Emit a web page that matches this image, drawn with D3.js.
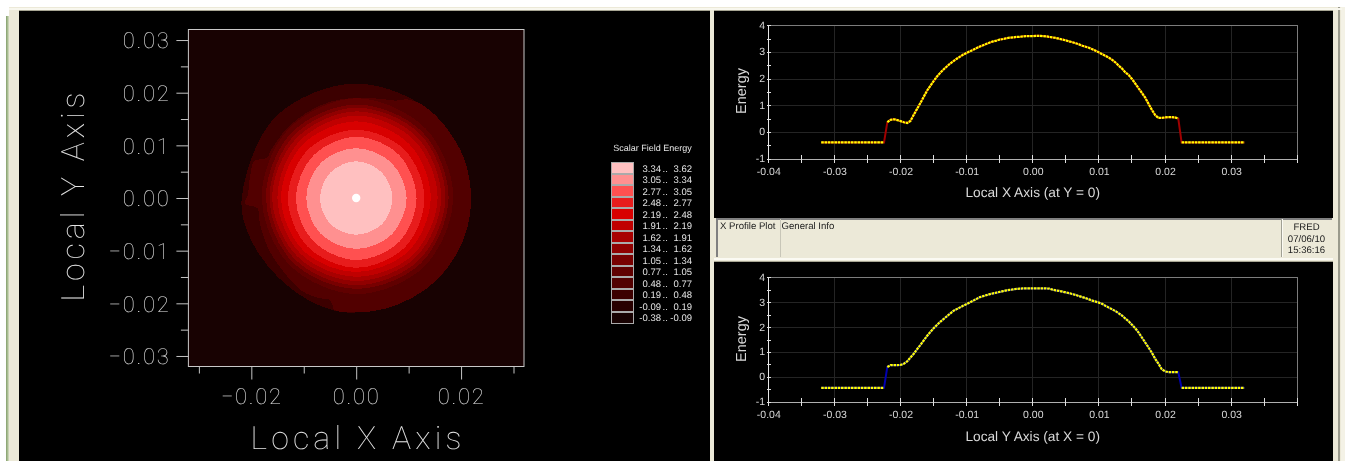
<!DOCTYPE html>
<html><head><meta charset="utf-8">
<script src="https://cdn.jsdelivr.net/npm/d3@7/dist/d3.min.js"></script>
<style>html,body{margin:0;padding:0;background:#fff;overflow:hidden}svg{display:block}text{text-rendering:geometricPrecision;filter:grayscale(1)}</style>
</head><body><svg id="c" width="1345" height="461"></svg>
<script>
// ---------- data ----------
const bandLow  = ["3.34","3.05","2.77","2.48","2.19","1.91","1.62","1.34","1.05","0.77","0.48","0.19","-0.09","-0.38"];
const bandHigh = ["3.62","3.34","3.05","2.77","2.48","2.19","1.91","1.62","1.34","1.05","0.77","0.48","0.19","-0.09"];
const bandColors = ["#ffc0c0","#ff9090","#ff5050","#e81c1c","#d80000","#c00000","#a80000","#900000","#780000","#600000","#520000","#3c0000","#280000","#180202"];
// contour boundary radii (m) at E, NE, N, NW, W, SW, S, SE, from the lower edge of each band
const directions8 = [0,45,90,135,180,225,270,315];
const radii334 = [.0069,.0069,.0070,.0069,.0069,.0070,.0070,.0070];
const radii305 = [.0096,.0095,.0095,.0095,.0095,.0096,.0097,.0097];
const radii277 = [.0115,.0116,.0117,.0115,.0115,.0116,.0118,.0117];
const radii248 = [.0130,.0130,.0130,.0130,.0130,.0131,.0133,.0132];
const radii219 = [.0142,.0144,.0146,.0144,.0143,.0142,.0141,.0142];
const radii191 = [.0155,.0156,.0157,.0153,.0150,.0150,.0150,.0153];
const radii162 = [.0162,.0164,.0165,.0161,.0160,.0158,.0158,.0160];
const radii134 = [.0170,.0172,.0172,.0168,.0165,.0165,.0166,.0168];
const radii105 = [.0176,.0178,.0178,.0175,.0172,.0172,.0173,.0175];
const radii077 = [.0185,.0187,.0190,.0184,.0180,.0180,.0183,.0184];
const directions048 = [0,20,40,52,58,63,68,75,90,105,120,135,150,156,160,165,172,178,183,186,195,210,225,240,250,255,257,259,270,285,300,315,330,345];
const radii048 = [.0219,.0219,.0218,.0218,.0216,.0211,.0200,.0195,.0191,.0190,.0188,.0187,.0186,.0187,.0207,.0207,.0206,.0206,.0212,.0189,.0190,.0193,.0197,.0205,.0203,.0200,.0206,.0217,.0218,.0218,.0218,.0219,.0219,.0219];
const directions019 = [0,45,90,135,180,200,225,250,270,315];
const radii019 = [.0219,.0218,.0218,.0218,.0218,.0216,.0212,.0216,.0218,.0219];
const peakRadius = .0008;

const profileGridStart = -0.032, profileGridStep = 0.0005;
const xProfile = [-.38,-.38,-.38,-.38,-.38,-.38,-.38,-.38,-.38,-.38,-.38,-.38,-.38,-.38,-.38,-.38,-.38,-.38,-.38,-.38,
 .38,.47,.49,.46,.42,.38,.35,.43,.66,.88,1.1,1.33,1.56,1.74,1.92,2.09,2.23,2.36,2.47,2.58,2.67,2.76,2.84,2.92,2.98,
 3.04,3.10,3.16,3.22,3.27,3.32,3.37,3.41,3.44,3.48,3.50,3.53,3.55,3.56,3.58,3.58,3.60,3.61,3.61,3.61,
 3.62,3.62,3.61,3.60,3.58,3.56,3.54,3.51,3.48,3.45,3.41,3.38,3.34,3.30,3.25,3.21,3.17,3.12,3.06,3.00,2.93,2.87,2.80,2.72,2.62,2.50,2.39,2.25,2.15,2.00,1.83,1.65,1.48,1.30,1.07,.85,.65,.54,.54,.56,.57,.57,.56,.52,
 -.38,-.38,-.38,-.38,-.38,-.38,-.38,-.38,-.38,-.38,-.38,-.38,-.38,-.38,-.38,-.38,-.38,-.38,-.38,-.38];
const yProfile = [-.42,-.42,-.42,-.42,-.42,-.42,-.42,-.42,-.42,-.42,-.42,-.42,-.42,-.42,-.42,-.42,-.42,-.42,-.42,-.42,
 .42,.49,.49,.49,.50,.55,.64,.80,.95,1.13,1.30,1.48,1.66,1.82,1.97,2.10,2.23,2.34,2.45,2.56,2.67,2.74,2.81,2.88,2.94,
 3.01,3.08,3.15,3.22,3.26,3.30,3.34,3.37,3.40,3.43,3.46,3.49,3.51,3.53,3.55,3.56,3.57,3.57,3.57,3.57,
 3.57,3.57,3.57,3.57,3.56,3.52,3.49,3.47,3.44,3.41,3.38,3.34,3.31,3.26,3.22,3.18,3.13,3.08,3.04,3.00,2.95,2.87,2.80,2.73,2.66,2.57,2.48,2.36,2.25,2.11,1.97,1.80,1.60,1.40,1.20,.99,.75,.55,.33,.24,.21,.21,.21,.21,
 -.42,-.42,-.42,-.42,-.42,-.42,-.42,-.42,-.42,-.42,-.42,-.42,-.42,-.42,-.42,-.42,-.42,-.42,-.42,-.42];
const mapMajorX = [-.02,0,.02], mapMinorX = [-.03,-.01,.01,.03];
const mapMajorY = [-.03,-.02,-.01,0,.01,.02,.03], mapMinorY = [-.025,-.015,-.005,.005,.015,.025];
const profTicksX = [-.04,-.03,-.02,-.01,0,.01,.02,.03], profMinorX = [-.035,-.025,-.015,-.005,.005,.015,.025,.035,.04];
const profTicksY = [-1,0,1,2,3,4], profMinorY = [-.5,.5,1.5,2.5,3.5];
const statusLines = ["FRED","07/06/10","15:36:16"];

// ---------- chrome ----------
const svg = d3.select("#c");
const root = svg.append("g");
const cream="#ece9d8", sans="'Liberation Sans',Arial,sans-serif", thin="Roboto,'Open Sans',sans-serif";
const R=(x,y,w,h,f,g=root)=>g.append("rect").attr("x",x).attr("y",y).attr("width",w).attr("height",h).attr("fill",f).attr("shape-rendering","crispEdges");
R(0,0,1345,461,"#fff");
R(9,7,1333,454,cream);
R(6,16,1,445,"#8fa878");R(7,16,1,445,"#a8bc90");R(8,16,1,445,"#c8d4b4");
R(1338,7,2,454,"#9a9a8c");R(1341,7,4,454,"#f4f2e6");
R(9,8,1333,2,"#f8f7ee");
R(19,10,691,1,"#a8a694");R(714,10,619,1,"#a8a694");
R(19,11,691,450,"#000");
R(714,11,619,207,"#000");
R(714,262,619,199,"#000");
// info bar
R(716,218,616,1.5,"#808080");R(716,218,1.5,39,"#808080");
R(714,258,619,2,"#fbfaf3");R(714,261,619,1,"#a8a694");
R(780,219,1,38,"#c8c6b8");R(1281,219,1,38,"#a0a094");R(1282,219,1,38,"#fbfaf3");
const bar=root.append("g").attr("font-family",sans).attr("font-size",9.6).attr("fill","#222");
bar.append("text").attr("x",720).attr("y",229).text("X Profile Plot");
bar.append("text").attr("x",781.5).attr("y",229).text("General Info");
bar.selectAll(null).data(statusLines).join("text").attr("x",1306.5).attr("y",(d,i)=>230+i*11.6).attr("text-anchor","middle").text(d=>d);

// ---------- contour map ----------
const mapX=d3.scaleLinear([-.032,.032],[188.4,524]);
const mapY=d3.scaleLinear([-.032,.032],[366.5,29.5]);
const mapR=d3.scaleLinear([0,.03],[0,157.5]);
const map=root.append("g");
R(188.4,29.5,335.6,337,bandColors[13],map);
const blob=d3.lineRadial().curve(d3.curveCatmullRomClosed.alpha(.5))
 .angle(d=>Math.PI/2-d[0]*Math.PI/180).radius(d=>mapR(d[1]));
const rings=[[directions019,radii019,11],[directions048,radii048,10],[directions8,radii077,9],[directions8,radii105,8],[directions8,radii134,7],[directions8,radii162,6],[directions8,radii191,5],[directions8,radii219,4],[directions8,radii248,3],[directions8,radii277,2],[directions8,radii305,1],[directions8,radii334,0]];
const mapPlot=map.append("g").attr("transform",`translate(${mapX(0)},${mapY(0)})`);
mapPlot.selectAll("path").data(rings).join("path")
 .attr("d",r=>blob(d3.zip(r[0],r[1]))).attr("fill",r=>bandColors[r[2]]).attr("shape-rendering","crispEdges");
mapPlot.append("circle").attr("r",mapR(peakRadius)).attr("fill","#fff");
map.append("rect").attr("x",188.4).attr("y",29.5).attr("width",335.6).attr("height",337).attr("fill","none").attr("stroke","#c8c8c8").attr("stroke-width",1);
const fmtMap=d3.format(".2f");
function mapAxis(gen,tf,size,labels,vals){
 const g=map.append("g").attr("transform",tf).call(gen.tickValues(vals).tickSize(size).tickSizeOuter(0).tickFormat(labels?fmtMap:""));
 g.select(".domain").remove();
 g.selectAll("line").attr("stroke","#c4c4c4").attr("stroke-width",1);
 return g;
}
const lxM=mapAxis(d3.axisBottom(mapX),"translate(0,366.5)",13,true,mapMajorX);
mapAxis(d3.axisBottom(mapX),"translate(0,366.5)",7,false,mapMinorX);
const lyM=mapAxis(d3.axisLeft(mapY),"translate(188.4,0)",12,true,mapMajorY);
mapAxis(d3.axisLeft(mapY),"translate(188.4,0)",7.5,false,mapMinorY);
map.selectAll("text").attr("font-family",thin).attr("font-weight",100).attr("font-size",22).attr("fill","#e4e4e4").attr("letter-spacing",1.7);
lxM.selectAll("text").attr("y",22).attr("dy",0).attr("dominant-baseline","hanging");
lyM.selectAll("text").attr("x",-18).attr("dy",".36em");
const bigLabel=(x,y,rot,t,len)=>map.append("text").attr("transform",`translate(${x},${y}) rotate(${rot})`).attr("text-anchor","middle").attr("font-family",thin).attr("font-weight",100).attr("font-size",32).attr("fill","#e4e4e4").attr("textLength",len).attr("lengthAdjust","spacing").text(t);
bigLabel(356,449,0,"Local X Axis",211);
bigLabel(84,197,-90,"Local Y Axis",209);

// ---------- legend ----------
const leg=root.append("g").attr("font-family",sans).attr("font-size",9.5).attr("fill","#e4e4e4");
leg.append("text").attr("x",652.5).attr("y",151).attr("text-anchor","middle").attr("font-size",9).text("Scalar Field Energy");
const legY=d3.scaleBand().domain(d3.range(bandLow.length)).range([162,323.5]);
const row=leg.selectAll("g").data(bandLow).join("g").attr("transform",(d,i)=>`translate(0,${legY(i)})`);
row.append("rect").attr("x",611).attr("y",.5).attr("width",22).attr("height",legY.bandwidth()-1).attr("fill",(d,i)=>bandColors[i]).attr("stroke","#aaa").attr("stroke-width",1).attr("shape-rendering","crispEdges");
row.append("text").attr("x",661).attr("y",9.5).attr("text-anchor","end").text(d=>d);
row.append("text").attr("x",662.5).attr("y",9.5).text("..");
row.append("text").attr("x",692).attr("y",9.5).attr("text-anchor","end").text((d,i)=>bandHigh[i]);

// ---------- profiles ----------
const profX=d3.scaleLinear([-.04,.04],[768.3,1297.3]);
function profile(cfg){
 const y=d3.scaleLinear([-1,4],[cfg.bottom,cfg.top]);
 const g=root.append("g").attr("font-family",sans);
 g.selectAll(".gx").data(profTicksX.slice(1)).join("line").attr("x1",d=>profX(d)).attr("x2",d=>profX(d)).attr("y1",cfg.top).attr("y2",cfg.bottom).attr("stroke","#242424").attr("shape-rendering","crispEdges");
 g.selectAll(".gy").data(profTicksY.slice(1,5)).join("line").attr("x1",768.3).attr("x2",1297.3).attr("y1",d=>y(d)).attr("y2",d=>y(d)).attr("stroke","#242424").attr("shape-rendering","crispEdges");
 g.append("path").attr("fill","none").attr("stroke","#7c7c7c").attr("stroke-width",1).attr("shape-rendering","crispEdges")
  .attr("d",`M768.3,${cfg.top}H1297.3V${cfg.bottom}`);
 const ax=g.append("g").attr("transform",`translate(0,${cfg.bottom})`).call(d3.axisBottom(profX).tickValues(profTicksX).tickSize(0).tickFormat(d=>d3.format(".2f")(d).replace("−","-")));
 ax.select(".domain").remove();
 ax.selectAll("text").attr("y",13).attr("dy",0).attr("font-size",10.5).attr("font-family",sans).attr("fill","#d8d8d8").attr("dominant-baseline","central");
 g.append("line").attr("x1",768.3).attr("x2",1297.3).attr("y1",cfg.bottom).attr("y2",cfg.bottom).attr("stroke","#b0b0b0").attr("stroke-width",1).attr("shape-rendering","crispEdges");
 g.append("line").attr("x1",768.3).attr("x2",768.3).attr("y1",cfg.top).attr("y2",cfg.bottom).attr("stroke","#e8e8e8").attr("stroke-width",1).attr("shape-rendering","crispEdges");
 g.selectAll(".tx").data(profTicksX.concat(profMinorX)).join("line").attr("x1",d=>profX(d)).attr("x2",d=>profX(d)).attr("y1",cfg.bottom-4).attr("y2",cfg.bottom+4).attr("stroke","#e0e0e0").attr("shape-rendering","crispEdges");
 g.selectAll(".ty").data(profTicksY.concat(profMinorY)).join("line").attr("x1",767).attr("x2",771).attr("y1",d=>y(d)).attr("y2",d=>y(d)).attr("stroke","#e0e0e0").attr("shape-rendering","crispEdges");
 g.selectAll(".ly").data(profTicksY).join("text").attr("x",765).attr("y",d=>y(d)).attr("text-anchor","end").attr("dominant-baseline","central").attr("font-size",10.5).attr("fill","#d8d8d8").text(d=>d);
 g.append("text").attr("x",1032.7).attr("y",cfg.labelY).attr("text-anchor","middle").attr("dominant-baseline","central").attr("font-size",13.7).attr("fill","#d8d8d8").text(cfg.label);
 g.append("text").attr("transform",`translate(742,${cfg.energyY}) rotate(-90)`).attr("text-anchor","middle").attr("dominant-baseline","central").attr("font-size",14.5).attr("fill","#d8d8d8").text("Energy");
 const pts=cfg.values.map((v,i)=>[profileGridStart+i*profileGridStep,v]);
 const lineGen=d3.line().x(d=>profX(d[0])).y(d=>y(d[1]));
 g.append("path").attr("fill","none").attr("stroke",cfg.line).attr("stroke-width",2).attr("d",lineGen(pts));
 // dense yellow markers: a finely dashed trace over each continuous run of samples
 g.selectAll(".run").data([pts.slice(0,20),pts.slice(20,109),pts.slice(109)]).join("path").attr("fill","none")
  .attr("stroke","#ffff00").attr("stroke-width",2.2).attr("stroke-dasharray","2.6,0.7").attr("d",lineGen);
}
profile({top:25.7,bottom:159,values:xProfile,line:"#a00000",label:"Local X Axis (at Y = 0)",labelY:192.5,energyY:91});
profile({top:277.7,bottom:402.3,values:yProfile,line:"#0000b0",label:"Local Y Axis (at X = 0)",labelY:436,energyY:339});
</script></body></html>
